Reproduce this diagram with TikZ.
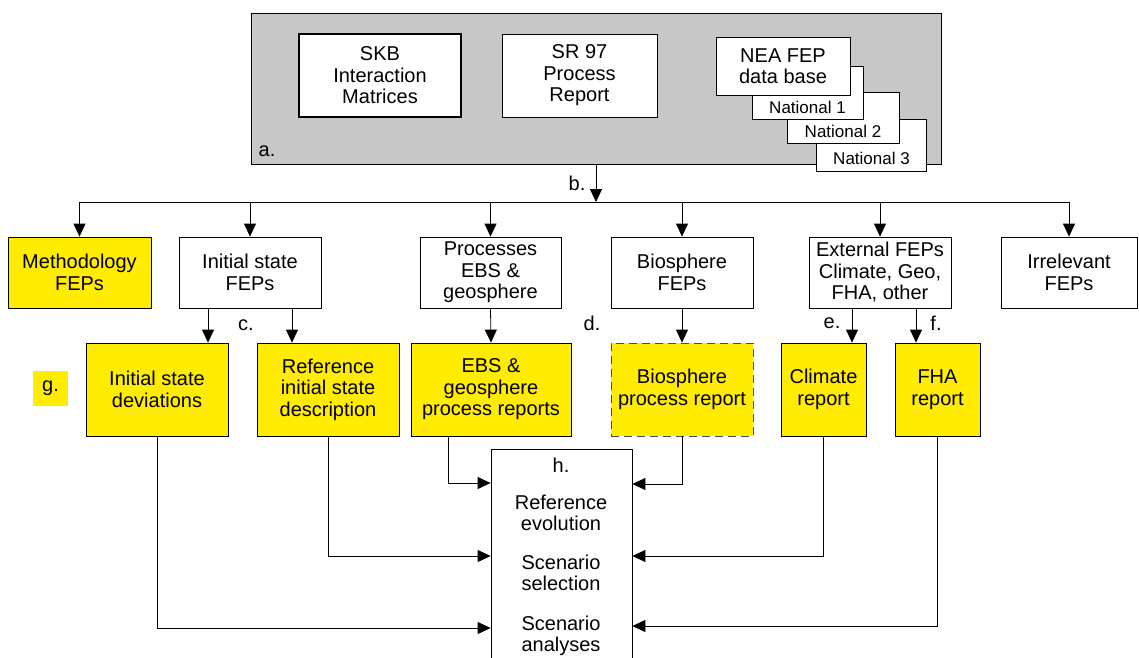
\documentclass[tikz,border=0pt]{standalone}
\usepackage{fontspec}
\setmainfont{Liberation Sans}
\usetikzlibrary{arrows.meta}
\definecolor{fepyellow}{RGB}{255,236,0}
\definecolor{fepgray}{RGB}{199,199,199}

\tikzset{
  fepbox/.style={draw, fill=white, align=center, inner sep=0pt, line width=0.8pt,
    font=\fontsize{20}{21.5}\selectfont},
  report/.style={fepbox, fill=fepyellow},
  natbox/.style={draw, fill=white, inner sep=0pt, line width=0.8pt},
  nattext/.style={inner sep=0pt, font=\fontsize{17}{19}\selectfont},
  tag/.style={inner sep=0pt, align=center, font=\fontsize{20}{21.5}\selectfont},
  arr/.style={line width=0.8pt, -{Triangle[length=13pt,width=12pt]}},
  link/.style={line width=0.8pt},
}

\begin{document}
\begin{tikzpicture}[x=1pt,y=-1pt]
\useasboundingbox (0,0) rectangle (1139,657);

% sources
\node (grp) at (596,88.5) [draw, fill=fepgray, line width=0.8pt, minimum width=690, minimum height=151] {};
\node (skb) at (380,75.5) [fepbox, line width=1.6pt, minimum width=162, minimum height=83] {SKB\\Interaction\\Matrices};
\node (sr) at (579.5,75.5) [fepbox, minimum width=155, minimum height=83] {SR 97\\Process\\Report};
\node (nat3) at (871.5,145.5) [natbox, minimum width=110, minimum height=52] {};
\node (nat3t) [nattext, above=7pt] at (nat3.south) {National 3};
\node (nat2) at (843,117.5) [natbox, minimum width=112, minimum height=51] {};
\node (nat2t) [nattext, above=6pt] at (nat2.south) {National 2};
\node (nat1) at (807.5,93) [natbox, minimum width=111, minimum height=53] {};
\node (nat1t) [nattext, above=6pt] at (nat1.south) {National 1};
\node (nea) at (783,66) [fepbox, minimum width=134, minimum height=58] {NEA FEP\\data base};
\node (la) at (267,151) [tag] {a.};

% FEP categories
\node (meth) at (79.5,272.5) [report, minimum width=143, minimum height=71] {Methodology\\FEPs};
\node (ini) at (250,272.5) [fepbox, minimum width=142, minimum height=71] {Initial state\\FEPs};
\node (proc) at (490.5,272.5) [fepbox, minimum width=141, minimum height=71] {Processes\\EBS \&\\geosphere};
\node (bio) at (682,272.5) [fepbox, minimum width=142, minimum height=71] {Biosphere\\FEPs};
\node (ext) at (880,272.5) [fepbox, minimum width=142, minimum height=71] {External FEPs\\Climate, Geo,\\FHA, other};
\node (irr) at (1069,272.5) [fepbox, minimum width=136, minimum height=71] {Irrelevant\\FEPs};

% reports
\node (dev) at (157,389.5) [report, minimum width=142, minimum height=93] {Initial state\\deviations};
\node (refd) at (328,389.5) [report, minimum width=142, minimum height=93] {Reference\\initial state\\description};
\node (ebs) at (491,389.5) [report, minimum width=160, minimum height=93] {EBS \&\\geosphere\\process reports};
\node (bior) at (682,389.5) [report, draw=black!70, dash pattern=on 8pt off 5pt, minimum width=142, minimum height=93] {Biosphere\\process report};
\node (clim) at (823.5,389.5) [report, minimum width=85, minimum height=93] {Climate\\report};
\node (fha) at (937.5,389.5) [report, minimum width=85, minimum height=93] {FHA\\report};

% safety assessment
\node (h) at (561.5,574.5) [fepbox, minimum width=141, minimum height=251] {};
\node (lh) at (561,465) [tag] {h.};
\node (refev) at (561,513) [tag] {Reference\\evolution};
\node (scsel) at (561,573) [tag] {Scenario\\selection};
\node (scan) at (561,636) [tag] {Scenario\\analyses};

% labels
\node (lb) at (577,183) [tag] {b.};
\node (lc) at (246,325) [tag] {c.};
\node (ld) at (592,323) [tag] {d.};
\node (le) at (832,323) [tag] {e.};
\node (lf) at (936,323) [tag] {f.};
\node (lg) at (50.5,388.5) [tag, fill=fepyellow, minimum size=35] {g.};

% distribution of FEPs
\coordinate (bus) at (596,202);
\draw[link] (meth.north |- bus) -- (irr.north |- bus);
\draw[arr] (grp.south) -- (bus);
\foreach \n in {meth,ini,proc,bio,ext,irr}
  \draw[arr] (\n.north |- bus) -- (\n.north);

\draw[arr] (ini.south -| 208,0) -- (dev.north -| 208,0);
\draw[arr] (ini.south -| 292,0) -- (refd.north -| 292,0);
\draw[arr] (proc.south) -- (ebs.north);
\draw[arr] (bio.south) -- (bior.north);
\draw[arr] (ext.south -| 852,0) -- (clim.north -| 852,0);
\draw[arr] (ext.south -| 916,0) -- (fha.north -| 916,0);

% inputs to the assessment
\coordinate (hl1) at (h.west |- 0,483);
\coordinate (hl2) at (h.west |- 0,556);
\coordinate (hl3) at (h.west |- 0,628);
\coordinate (hr1) at (h.east |- 0,484);
\coordinate (hr2) at (h.east |- 0,556);
\coordinate (hr3) at (h.east |- 0,626);
\draw[arr] (ebs.south -| 448,0) |- (hl1);
\draw[arr] (refd.south) |- (hl2);
\draw[arr] (dev.south) |- (hl3);
\draw[arr] (bior.south) |- (hr1);
\draw[arr] (clim.south) |- (hr2);
\draw[arr] (fha.south) |- (hr3);
\end{tikzpicture}
\end{document}
